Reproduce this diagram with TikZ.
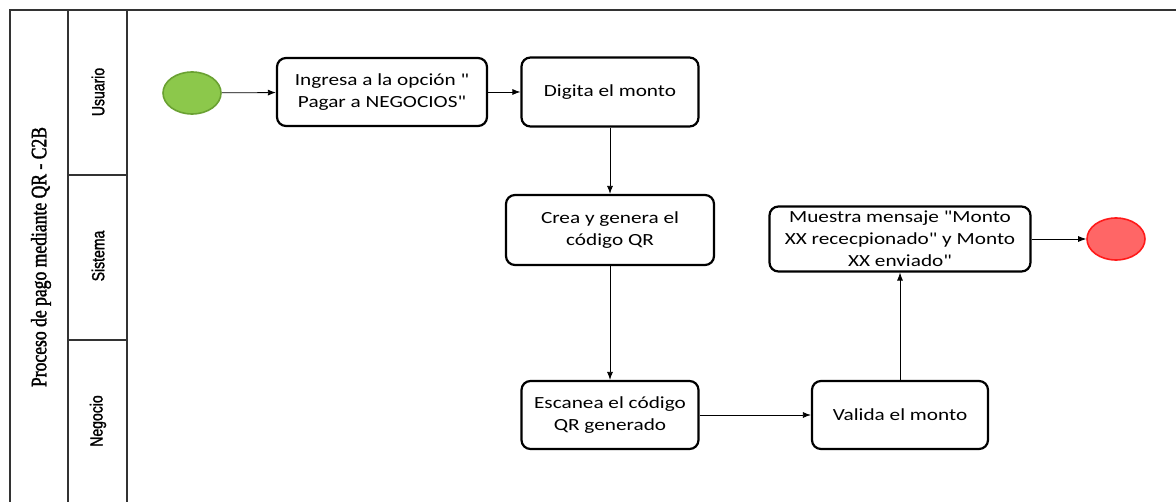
\documentclass[tikz,border=0pt]{standalone}
\usepackage{fontspec}
\setmainfont{Carlito}[Ligatures=TeXOff, FakeStretch=1.25]
\newfontfamily\titlefont[FakeStretch=0.8, FakeBold=1.6]{Liberation Serif}
\newfontfamily\lanefont[FakeStretch=0.8, FakeBold=1.4]{Liberation Sans}
\usetikzlibrary{arrows.meta}
\usetikzlibrary{shapes.geometric}

\definecolor{startgreen}{HTML}{8CC84B}
\definecolor{startedge}{HTML}{6AA132}
\definecolor{endred}{HTML}{FF6666}
\definecolor{endedge}{HTML}{FF1A1A}

\begin{document}
\begin{tikzpicture}[x=1pt, y=-1pt,
    task/.style={draw, line width=2.2pt, rounded corners=9pt, align=center,
                 inner sep=0pt, font=\fontsize{17}{22}\selectfont},
    event/.style={ellipse, minimum width=58pt, minimum height=42pt, line width=1.6pt},
    flow/.style={-{Latex[length=8pt,width=6pt]}, line width=0.8pt},
    pool/.style={line width=1.3pt, draw=black!80},
    lane/.style={rotate=90, font=\lanefont\fontsize{17.5}{21}\selectfont}]
\useasboundingbox (0,0) rectangle (1176,502);

% pool and lanes
\draw[pool] (10,502) -- (10,10) -- (1176,10);
\draw[pool] (68,10) -- (68,502);
\draw[pool] (127,10) -- (127,502);
\draw[pool] (68,175) -- (127,175);
\draw[pool] (68,340) -- (127,340);

\node[rotate=90, font=\titlefont\fontsize{22}{26}\selectfont] (pooltitle) at (41,257) {Proceso de pago mediante QR - C2B};
\node[lane] (usuario) at (98,92)  {Usuario};
\node[lane] (sistema) at (98,256) {Sistema};
\node[lane] (negocio) at (98,421) {Negocio};

% events and tasks
\node[event, draw=startedge, fill=startgreen] (start) at (192,93) {};
\node[task, minimum width=210pt, minimum height=68pt] (ingresa) at (382,92)
    {Ingresa a la opción "\\Pagar a NEGOCIOS"};
\node[task, minimum width=177pt, minimum height=69pt] (digita) at (610,92) {Digita el monto};
\node[task, minimum width=208pt, minimum height=70pt] (crea) at (610,230)
    {Crea y genera el\\código QR};
\node[task, minimum width=177pt, minimum height=68pt] (escanea) at (610,415)
    {Escanea el código\\QR generado};
\node[task, minimum width=176pt, minimum height=68pt] (valida) at (900,415) {Valida el monto};
\node[task, minimum width=261pt, minimum height=65pt] (muestra) at (900,239)
    {Muestra mensaje "Monto\\XX rececpionado" y Monto\\XX enviado"};
\node[event, draw=endedge, fill=endred] (end) at (1116,239) {};

% sequence flows
\draw[flow] (start) -- (ingresa);
\draw[flow] (ingresa) -- (digita);
\draw[flow] (digita) -- (crea);
\draw[flow] (crea) -- (escanea);
\draw[flow] (escanea) -- (valida);
\draw[flow] (valida) -- (muestra);
\draw[flow] (muestra) -- (end);
\end{tikzpicture}
\end{document}
